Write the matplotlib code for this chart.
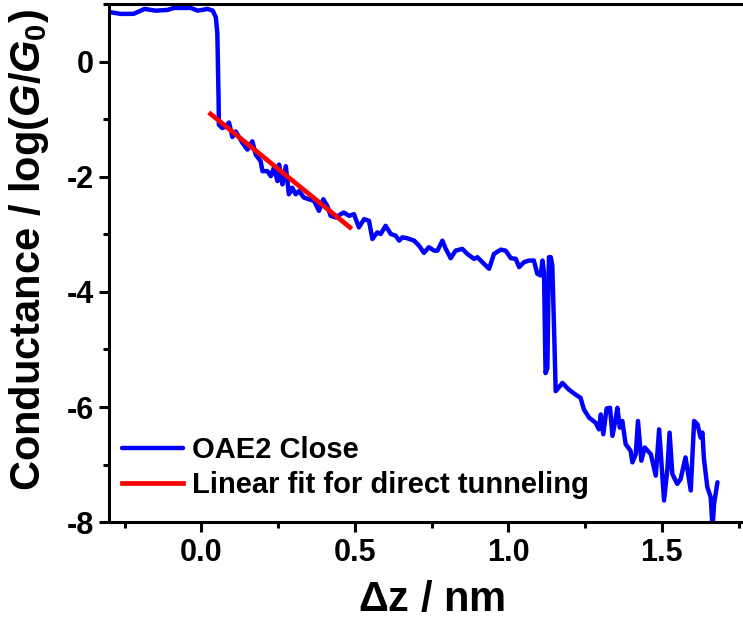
import matplotlib
matplotlib.use("Agg")
import matplotlib.pyplot as plt
from matplotlib.ticker import MultipleLocator

plt.rcParams['font.family'] = ['Liberation Sans', 'DejaVu Sans']
plt.rcParams['font.weight'] = 'bold'
plt.rcParams['mathtext.fontset'] = 'custom'
plt.rcParams['mathtext.rm'] = 'Liberation Sans:bold'
plt.rcParams['mathtext.bf'] = 'Liberation Sans:bold'
plt.rcParams['mathtext.it'] = 'Liberation Sans:italic:bold'

# Blue trace: displacement (nm) and log(G/G0)
dz = [-0.295, -0.263, -0.221, -0.185, -0.149, -0.110, -0.090, -0.035, -0.012, 0.020,
      0.037, 0.047, 0.052, 0.056, 0.057, 0.068, 0.079, 0.090, 0.101, 0.112,
      0.134, 0.150, 0.166, 0.177, 0.193, 0.199, 0.215, 0.226, 0.236, 0.248,
      0.253, 0.264, 0.275, 0.285, 0.296, 0.307, 0.318, 0.334, 0.350, 0.367,
      0.383, 0.397, 0.410, 0.421, 0.437, 0.454, 0.464, 0.481, 0.497, 0.513,
      0.530, 0.546, 0.557, 0.573, 0.584, 0.600, 0.617, 0.633, 0.644, 0.655,
      0.671, 0.693, 0.709, 0.725, 0.741, 0.758, 0.769, 0.785, 0.796, 0.812,
      0.828, 0.850, 0.866, 0.888, 0.899, 0.915, 0.937, 0.953, 0.975, 0.991,
      1.008, 1.024, 1.035, 1.051, 1.067, 1.083, 1.094, 1.105, 1.111, 1.116,
      1.121, 1.127, 1.132, 1.138, 1.143, 1.149, 1.154, 1.176, 1.197, 1.219,
      1.235, 1.246, 1.263, 1.284, 1.295, 1.301, 1.309, 1.320, 1.331, 1.339,
      1.350, 1.355, 1.363, 1.371, 1.382, 1.398, 1.404, 1.415, 1.422, 1.433,
      1.444, 1.464, 1.480, 1.491, 1.507, 1.518, 1.525, 1.534, 1.550, 1.561,
      1.577, 1.594, 1.605, 1.616, 1.626, 1.632, 1.637, 1.648, 1.659, 1.665,
      1.670, 1.681]
logG = [0.855, 0.828, 0.828, 0.914, 0.884, 0.897, 0.931, 0.931, 0.884, 0.914,
        0.884, 0.769, 0.488, -0.667, -1.098, -1.155, -1.128, -1.059, -1.310, -1.214,
        -1.414, -1.529, -1.386, -1.616, -1.731, -1.903, -1.903, -1.990, -1.845, -2.076,
        -1.788, -2.133, -1.817, -2.305, -2.190, -2.305, -2.248, -2.362, -2.391, -2.421,
        -2.593, -2.391, -2.507, -2.679, -2.707, -2.650, -2.621, -2.679, -2.650, -2.879,
        -2.736, -2.766, -3.081, -2.966, -2.995, -2.852, -2.995, -3.024, -3.110, -3.052,
        -3.069, -3.110, -3.197, -3.322, -3.224, -3.283, -3.283, -3.110, -3.253, -3.414,
        -3.283, -3.253, -3.340, -3.426, -3.397, -3.483, -3.598, -3.340, -3.266, -3.283,
        -3.414, -3.426, -3.569, -3.483, -3.455, -3.455, -3.684, -3.714, -3.455, -3.655,
        -5.410, -5.322, -3.397, -3.397, -3.541, -4.684, -5.724, -5.581, -5.697, -5.783,
        -5.840, -6.041, -6.184, -6.271, -6.386, -6.128, -6.472, -6.024, -6.012, -6.500,
        -6.184, -6.012, -6.357, -6.241, -6.645, -6.759, -6.960, -6.817, -6.241, -6.931,
        -6.702, -6.817, -7.190, -6.386, -7.621, -7.076, -6.443, -7.162, -7.334, -7.248,
        -6.874, -7.448, -6.241, -6.300, -6.529, -6.443, -6.903, -7.391, -7.564, -8.100,
        -7.679, -7.305]

# Linear fit for direct tunneling
fit_dz = [0.030, 0.484]
fit_logG = [-0.91, -2.88]

series_labels = ['OAE2 Close', 'Linear fit for direct tunneling']

fig = plt.figure(figsize=(7.43, 6.21), dpi=100)
ax = fig.add_axes([0.1471, 0.159, 0.8677, 0.8346])

ax.plot(dz, logG, color='#0000ff', lw=3.2, label=series_labels[0],
        solid_joinstyle='round', solid_capstyle='round')
ax.plot(fit_dz, fit_logG, color='#ff0000', lw=3.4, label=series_labels[1])

ax.set_xlim(-0.3, 1.8)
ax.set_ylim(-8, 1)
ax.xaxis.set_minor_locator(MultipleLocator(0.25))
ax.yaxis.set_minor_locator(MultipleLocator(1))
ax.set_xticks([0.0, 0.5, 1.0, 1.5])
ax.set_xticklabels(['0.0', '0.5', '1.0', '1.5'])
ax.set_yticks([0, -2, -4, -6, -8])
ax.set_yticklabels(['0', '-2', '-4', '-6', '-8'])

for s in ax.spines.values():
    s.set_linewidth(2.2)
ax.tick_params(which='major', direction='out', length=7, width=2.2, labelsize=22, pad=4)
ax.tick_params(which='minor', direction='out', length=4.5, width=2.2)
ax.tick_params(top=False, right=False, which='both')

ax.set_xlabel(r'$\Delta$z / nm', fontsize=30, fontweight='bold', labelpad=9)
ax.set_ylabel(r'Conductance / log($\it{G}$/$\it{G}_\mathrm{0}$)', fontsize=30, fontweight='bold')
ax.yaxis.set_label_coords(-0.09, 0.526)

leg = ax.legend(loc='lower left', bbox_to_anchor=(0.019, 0.045), frameon=False,
                fontsize=21, handlelength=2.1, handletextpad=0.33, labelspacing=0.23,
                borderpad=0, borderaxespad=0)

fig.savefig('out.png', dpi=100)
